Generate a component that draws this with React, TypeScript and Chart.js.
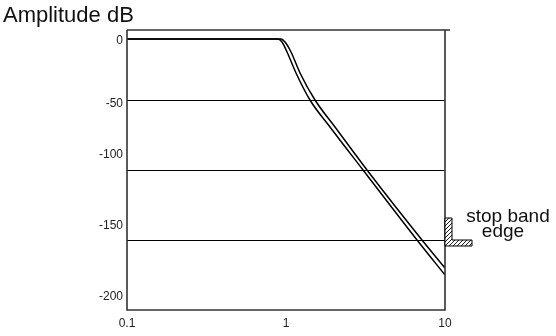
import React, { useEffect, useRef } from 'react';
import { Chart, registerables } from 'chart.js';

Chart.register(...registerables);

// Two nearly identical amplitude responses (frequency, dB)
const freqA = [0.1, 0.891, 0.944, 1.015, 1.156, 1.415, 1.891, 3.051, 6.667, 10];
const ampA = [-6.4, -6.4, -8.6, -15.7, -30.7, -50, -69.3, -100, -150, -175];
const freqB = [0.1, 0.93, 0.986, 1.075, 1.225, 1.522, 2.033, 3.232, 7.166, 10];
const ampB = [-6.4, -6.4, -8.6, -15.7, -30.7, -50, -69.3, -100, -150, -170];

const xTickValues = [0.1, 1, 10];
const xTickLabels = ['0.1', '1', '10'];
const yGridValues = [-50, -100, -150];
const yLabelValues = [-7.8, -52.6, -89.3, -140, -190.7];
const yLabelTexts = ['0', '-50', '-100', '-150', '-200'];

const stopBandFreq = 10;
const stopBandLevel = -150;
const stopBandText = ['stop band', 'edge'];
const titleText = 'Amplitude dB';

const FONT = '"Liberation Sans", Arial, Helvetica, sans-serif';

const framePlugin = {
  id: 'frame',
  afterDraw(chart: any) {
    const { ctx, chartArea: a } = chart;
    ctx.save();
    ctx.strokeStyle = '#333';
    ctx.lineWidth = 1.6;
    ctx.beginPath();
    ctx.moveTo(a.left, a.top);
    ctx.lineTo(a.right + 5, a.top);
    ctx.moveTo(a.right, a.top);
    ctx.lineTo(a.right, a.bottom);
    ctx.lineTo(a.left, a.bottom);
    ctx.lineTo(a.left, a.top);
    ctx.stroke();

    // title
    ctx.fillStyle = '#111';
    ctx.font = `22px ${FONT}`;
    ctx.textAlign = 'left';
    ctx.textBaseline = 'alphabetic';
    ctx.fillText(titleText, 3, 21.5);

    // stop band marker
    const px = chart.scales.x.getPixelForValue(stopBandFreq);
    const py = chart.scales.y.getPixelForValue(stopBandLevel);
    const poly = [
      [0, -22], [7, -22], [7, 0], [27, 0], [27, 6], [0, 6],
    ];
    const path = () => {
      ctx.beginPath();
      poly.forEach(([dx, dy], i) => {
        if (i === 0) ctx.moveTo(px + dx, py + dy);
        else ctx.lineTo(px + dx, py + dy);
      });
      ctx.closePath();
    };
    path();
    ctx.fillStyle = '#fff';
    ctx.fill();
    ctx.save();
    ctx.clip();
    ctx.strokeStyle = '#000';
    ctx.lineWidth = 0.9;
    ctx.beginPath();
    for (let k = -40; k < 60; k += 4) {
      ctx.moveTo(px + k, py + 10);
      ctx.lineTo(px + k + 34, py - 24);
    }
    ctx.stroke();
    ctx.restore();
    path();
    ctx.strokeStyle = '#000';
    ctx.lineWidth = 1;
    ctx.stroke();

    ctx.fillStyle = '#111';
    ctx.font = `19px ${FONT}`;
    ctx.textAlign = 'center';
    ctx.fillText(stopBandText[0], px + 63, py - 18);
    ctx.fillText(stopBandText[1], px + 58, py - 3.5);
    ctx.restore();
  },
};

export default function App() {
  const ref = useRef<HTMLCanvasElement | null>(null);

  useEffect(() => {
    if (!ref.current) return;
    const mk = (xs: number[], ys: number[]) => xs.map((x, i) => ({ x, y: ys[i] }));
    const lineStyle = {
      borderColor: '#000',
      borderWidth: 1.5,
      pointRadius: 0,
      cubicInterpolationMode: 'monotone' as const,
      fill: false,
    };
    const chart = new Chart(ref.current, {
      type: 'line',
      data: {
        datasets: [
          { data: mk(freqA, ampA), ...lineStyle },
          { data: mk(freqB, ampB), ...lineStyle },
        ],
      },
      options: {
        animation: false,
        responsive: false,
        layout: { padding: { top: 30, right: 111, left: 0, bottom: 0 } },
        plugins: {
          legend: { display: false },
          tooltip: { enabled: false },
          title: { display: false },
        },
        scales: {
          x: {
            type: 'logarithmic',
            min: 0.1,
            max: 10,
            afterBuildTicks: (scale: any) => {
              scale.ticks = xTickValues.map((v) => ({ value: v }));
            },
            afterFit: (scale: any) => {
              scale.height = 26;
            },
            grid: { display: false, drawTicks: false },
            border: { display: false },
            ticks: {
              autoSkip: false,
              maxRotation: 0,
              padding: 6,
              color: '#222',
              font: { family: FONT, size: 12 },
              callback: (_v: any, i: number) => xTickLabels[i],
            },
          },
          y: {
            type: 'linear',
            min: -200,
            max: 0,
            afterBuildTicks: (scale: any) => {
              scale.ticks = [...yGridValues, ...yLabelValues].map((v) => ({ value: v }));
            },
            afterFit: (scale: any) => {
              scale.width = 127;
            },
            grid: {
              drawTicks: false,
              lineWidth: 1,
              color: (c: any) => (c.index < yGridValues.length ? '#000' : 'rgba(0,0,0,0)'),
            },
            border: { display: false },
            ticks: {
              autoSkip: false,
              padding: 4,
              color: '#222',
              font: { family: FONT, size: 12 },
              callback: (_v: any, i: number) =>
                i < yGridValues.length ? '' : yLabelTexts[i - yGridValues.length],
            },
          },
        },
      },
      plugins: [framePlugin],
    });
    return () => chart.destroy();
  }, []);

  return (
    <div style={{ position: 'absolute', left: 0, top: 0, width: 556, height: 336, background: '#fff' }}>
      <canvas ref={ref} width={556} height={336} style={{ display: 'block' }} />
    </div>
  );
}
